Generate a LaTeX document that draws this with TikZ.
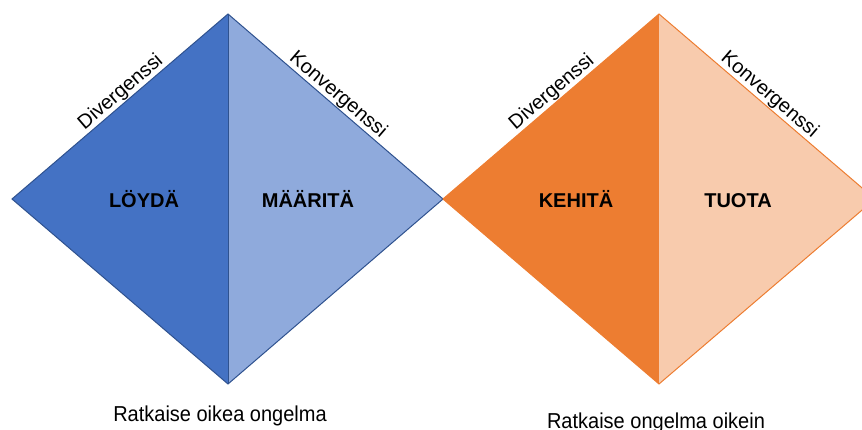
\documentclass[tikz,border=0pt]{standalone}
\usepackage{fontspec}
\setmainfont{Liberation Sans}
\definecolor{bluedark}{HTML}{4472C4}
\definecolor{bluelight}{HTML}{8FAADC}
\definecolor{bluestroke}{HTML}{2F528F}
\definecolor{orangedark}{HTML}{ED7D31}
\definecolor{orangelight}{HTML}{F8CBAD}
\tikzset{
  phase/.style={font=\fontsize{20}{24}\selectfont\bfseries, anchor=base},
  slopelabel/.style={font=\fontsize{20}{24}\selectfont, sloped, above, inner sep=0.8pt},
  caption/.style={font=\fontsize{20}{24}\selectfont, anchor=base, yscale=1.08, transform shape},
}
\begin{document}
\begin{tikzpicture}[x=1pt,y=1pt]
\useasboundingbox (0,0) rectangle (862,429);
\clip (0,0) rectangle (862,429);
% left diamond
\coordinate (L1) at (12,230);
\coordinate (T1) at (228,415);
\coordinate (R1) at (443,230);
\coordinate (B1) at (228,45);
\fill[bluedark] (L1) -- (T1) -- (B1) -- cycle;
\fill[bluelight] (T1) -- (R1) -- (B1) -- cycle;
\draw[bluestroke, line width=1pt, line join=miter] (L1) -- (T1) -- (R1) -- (B1) -- cycle;
\draw[bluestroke, line width=1pt] (T1) -- (B1);
% right diamond
\coordinate (L2) at (443,230);
\coordinate (T2) at (659,415);
\coordinate (R2) at (875,230);
\coordinate (B2) at (659,45);
\fill[orangedark] (L2) -- (T2) -- (B2) -- cycle;
\fill[orangelight] (T2) -- (R2) -- (B2) -- cycle;
\draw[orangedark, line width=1pt, line join=miter] (L2) -- (T2) -- (R2) -- (B2) -- cycle;
% slope labels
\path (L1) -- (T1) node[slopelabel, pos=0.535] (div1) {Divergenssi};
\path (T1) -- (R1) node[slopelabel, pos=0.48] (kon1) {Konvergenssi};
\path (L2) -- (T2) node[slopelabel, pos=0.535] (div2) {Divergenssi};
\path (T2) -- (R2) node[slopelabel, pos=0.48] (kon2) {Konvergenssi};
% phase labels
\node[phase] (loyda) at (144,222) {LÖYDÄ};
\node[phase] (maarita) at (308,222) {MÄÄRITÄ};
\node[phase] (kehita) at (576,222) {KEHITÄ};
\node[phase] (tuota) at (738,222) {TUOTA};
% captions
\node[caption] (cap1) at (220,8) {Ratkaise oikea ongelma};
\node[caption] (cap2) at (656,1) {Ratkaise ongelma oikein};
\end{tikzpicture}
\end{document}
